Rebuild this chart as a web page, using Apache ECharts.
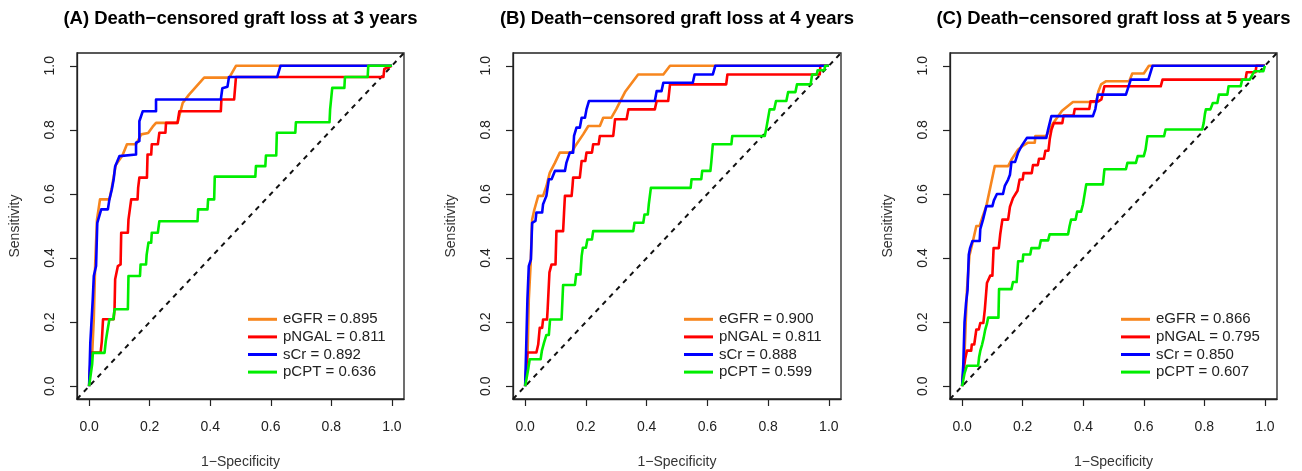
<!DOCTYPE html>
<html>
<head>
<meta charset="utf-8">
<script src="https://cdn.jsdelivr.net/npm/echarts@6/dist/echarts.min.js"></script>
<style>
html,body{margin:0;padding:0;background:#fff;}
#chart{width:1302px;height:471px;}
</style>
</head>
<body>
<div id="chart"></div>
<script>
// ---- text / labels ----
const panelTitles = [
  '(A) Death\u2212censored graft loss at 3 years',
  '(B) Death\u2212censored graft loss at 4 years',
  '(C) Death\u2212censored graft loss at 5 years'
];
const markers = ['eGFR', 'pNGAL', 'sCr', 'pCPT'];
const aucA = ['0.895', '0.811', '0.892', '0.636'];
const aucB = ['0.900', '0.811', '0.888', '0.599'];
const aucC = ['0.866', '0.795', '0.850', '0.607'];
const xTicks = [0, 0.2, 0.4, 0.6, 0.8, 1.0];
const yTicks = [0, 0.2, 0.4, 0.6, 0.8, 1.0];
const xTitle = '1\u2212Specificity';
const yTitle = 'Sensitivity';

// ---- ROC curves: [1-specificity, sensitivity] ----
const A_eGFR = [[0,0],[0.005,0.07],[0.01,0.10],[0.0155,0.209],[0.02,0.38],[0.026,0.52],[0.036,0.583],[0.067,0.583],[0.075,0.62],[0.088,0.69],[0.11,0.72],[0.125,0.755],[0.155,0.755],[0.16,0.76],[0.172,0.786],[0.195,0.79],[0.21,0.81],[0.221,0.822],[0.292,0.822],[0.309,0.884],[0.33,0.91],[0.38,0.963],[0.463,0.963],[0.485,1.0],[1,1]];
const A_pNGAL = [[0,0],[0.004,0.07],[0.006,0.105],[0.038,0.105],[0.042,0.14],[0.046,0.209],[0.081,0.209],[0.084,0.24],[0.086,0.334],[0.095,0.375],[0.104,0.38],[0.106,0.479],[0.128,0.479],[0.13,0.52],[0.139,0.583],[0.16,0.583],[0.162,0.62],[0.166,0.651],[0.191,0.651],[0.193,0.723],[0.205,0.723],[0.207,0.755],[0.227,0.755],[0.232,0.791],[0.252,0.791],[0.254,0.822],[0.292,0.822],[0.298,0.858],[0.435,0.858],[0.437,0.895],[0.479,0.895],[0.485,0.965],[0.972,0.965],[0.975,0.99],[1,1]];
const A_sCr = [[0,0],[0.004,0.136],[0.012,0.271],[0.0155,0.344],[0.023,0.375],[0.027,0.51],[0.031,0.515],[0.04,0.552],[0.062,0.552],[0.067,0.583],[0.075,0.614],[0.081,0.645],[0.086,0.686],[0.092,0.692],[0.1,0.718],[0.105,0.723],[0.155,0.723],[0.155,0.76],[0.166,0.765],[0.166,0.827],[0.177,0.858],[0.221,0.858],[0.221,0.895],[0.435,0.895],[0.44,0.93],[0.457,0.935],[0.462,0.965],[0.621,0.965],[0.632,1.0],[1,1]];
const A_pCPT = [[0,0],[0.01,0.068],[0.0125,0.104],[0.051,0.104],[0.055,0.14],[0.06,0.17],[0.067,0.209],[0.08,0.209],[0.084,0.24],[0.128,0.24],[0.13,0.344],[0.168,0.344],[0.17,0.38],[0.188,0.38],[0.19,0.41],[0.196,0.448],[0.205,0.448],[0.207,0.479],[0.227,0.479],[0.232,0.515],[0.358,0.515],[0.36,0.552],[0.391,0.552],[0.393,0.583],[0.413,0.583],[0.415,0.654],[0.549,0.654],[0.551,0.687],[0.582,0.687],[0.584,0.72],[0.618,0.72],[0.62,0.791],[0.681,0.791],[0.683,0.824],[0.794,0.824],[0.796,0.864],[0.801,0.864],[0.803,0.931],[0.843,0.931],[0.845,0.965],[0.92,0.965],[0.922,1.0],[1,1]];

const B_eGFR = [[0,0],[0.008,0.1],[0.012,0.27],[0.018,0.38],[0.023,0.52],[0.03,0.55],[0.043,0.594],[0.059,0.594],[0.07,0.624],[0.081,0.666],[0.098,0.697],[0.114,0.729],[0.153,0.729],[0.165,0.75],[0.191,0.786],[0.208,0.812],[0.246,0.812],[0.257,0.838],[0.284,0.838],[0.3,0.865],[0.33,0.92],[0.372,0.973],[0.455,0.973],[0.477,1.0],[1,1]];
const B_pNGAL = [[0,0],[0.004,0.06],[0.0075,0.105],[0.037,0.105],[0.043,0.13],[0.048,0.182],[0.056,0.182],[0.059,0.208],[0.072,0.208],[0.074,0.239],[0.08,0.355],[0.087,0.38],[0.1,0.38],[0.103,0.484],[0.125,0.484],[0.128,0.54],[0.131,0.594],[0.153,0.594],[0.156,0.625],[0.158,0.651],[0.18,0.651],[0.186,0.703],[0.198,0.703],[0.202,0.729],[0.22,0.729],[0.224,0.755],[0.242,0.755],[0.246,0.781],[0.29,0.781],[0.296,0.833],[0.334,0.833],[0.34,0.864],[0.427,0.864],[0.433,0.89],[0.471,0.89],[0.477,0.942],[0.662,0.942],[0.666,0.973],[0.97,0.973],[0.972,1.0],[1,1]];
const B_sCr = [[0,0],[0.003,0.105],[0.0075,0.271],[0.012,0.375],[0.019,0.396],[0.023,0.51],[0.034,0.516],[0.037,0.542],[0.056,0.542],[0.059,0.568],[0.07,0.594],[0.078,0.646],[0.087,0.646],[0.098,0.672],[0.131,0.672],[0.136,0.698],[0.147,0.729],[0.158,0.729],[0.161,0.781],[0.169,0.807],[0.18,0.807],[0.186,0.838],[0.197,0.838],[0.202,0.864],[0.21,0.89],[0.427,0.89],[0.433,0.921],[0.449,0.921],[0.455,0.947],[0.552,0.947],[0.558,0.973],[0.618,0.973],[0.626,1.0],[1,1]];
const B_pCPT = [[0,0],[0.01,0.053],[0.015,0.084],[0.051,0.084],[0.055,0.11],[0.062,0.135],[0.07,0.16],[0.078,0.16],[0.082,0.208],[0.12,0.208],[0.125,0.316],[0.164,0.316],[0.168,0.349],[0.182,0.349],[0.186,0.406],[0.19,0.432],[0.2,0.432],[0.205,0.458],[0.22,0.458],[0.224,0.484],[0.356,0.484],[0.36,0.51],[0.389,0.51],[0.393,0.536],[0.404,0.536],[0.407,0.567],[0.41,0.567],[0.414,0.619],[0.545,0.619],[0.548,0.646],[0.58,0.646],[0.583,0.672],[0.61,0.672],[0.613,0.7],[0.616,0.7],[0.618,0.755],[0.679,0.755],[0.682,0.781],[0.789,0.781],[0.795,0.81],[0.8,0.81],[0.805,0.864],[0.82,0.864],[0.826,0.89],[0.86,0.89],[0.866,0.918],[0.89,0.918],[0.895,0.942],[0.94,0.942],[0.945,0.973],[0.96,0.973],[0.963,0.986],[0.985,0.986],[0.988,1.0],[1,1]];

const C_eGFR = [[0,0],[0.008,0.1],[0.012,0.2],[0.016,0.3],[0.024,0.407],[0.035,0.45],[0.047,0.5],[0.058,0.5],[0.068,0.53],[0.08,0.562],[0.094,0.625],[0.108,0.687],[0.152,0.687],[0.165,0.71],[0.185,0.739],[0.2,0.75],[0.218,0.76],[0.24,0.76],[0.242,0.781],[0.278,0.781],[0.3,0.82],[0.33,0.86],[0.366,0.887],[0.443,0.887],[0.45,0.92],[0.459,0.942],[0.476,0.952],[0.552,0.952],[0.562,0.976],[0.6,0.976],[0.617,1.0],[1,1]];
const C_pNGAL = [[0,0],[0.005,0.05],[0.01,0.085],[0.016,0.111],[0.03,0.111],[0.032,0.13],[0.04,0.13],[0.047,0.177],[0.055,0.177],[0.06,0.197],[0.07,0.197],[0.075,0.239],[0.08,0.239],[0.082,0.322],[0.093,0.345],[0.1,0.345],[0.104,0.431],[0.121,0.431],[0.126,0.475],[0.133,0.52],[0.152,0.52],[0.158,0.56],[0.168,0.587],[0.183,0.61],[0.19,0.645],[0.2,0.645],[0.203,0.665],[0.23,0.665],[0.234,0.69],[0.25,0.69],[0.254,0.71],[0.27,0.71],[0.275,0.735],[0.285,0.735],[0.29,0.775],[0.295,0.8],[0.303,0.821],[0.331,0.821],[0.335,0.845],[0.368,0.845],[0.372,0.865],[0.42,0.865],[0.424,0.889],[0.45,0.889],[0.46,0.895],[0.47,0.936],[0.656,0.936],[0.662,0.957],[0.936,0.957],[0.94,0.98],[0.969,0.98],[0.972,1.0],[1,1]];
const C_sCr = [[0,0],[0.004,0.07],[0.008,0.2],[0.013,0.26],[0.018,0.3],[0.022,0.41],[0.026,0.43],[0.034,0.453],[0.058,0.453],[0.06,0.49],[0.069,0.52],[0.075,0.525],[0.08,0.562],[0.1,0.562],[0.105,0.58],[0.115,0.6],[0.135,0.6],[0.141,0.625],[0.152,0.645],[0.158,0.66],[0.163,0.7],[0.175,0.7],[0.185,0.729],[0.196,0.749],[0.214,0.775],[0.278,0.775],[0.284,0.801],[0.295,0.843],[0.432,0.843],[0.44,0.865],[0.448,0.91],[0.541,0.91],[0.557,0.957],[0.615,0.957],[0.629,1.0],[1,1]];
const C_pCPT = [[0,0],[0.008,0.04],[0.016,0.064],[0.053,0.064],[0.056,0.09],[0.06,0.11],[0.066,0.13],[0.071,0.15],[0.076,0.175],[0.082,0.195],[0.086,0.214],[0.12,0.214],[0.122,0.303],[0.163,0.303],[0.168,0.325],[0.18,0.325],[0.182,0.35],[0.185,0.39],[0.2,0.39],[0.202,0.411],[0.225,0.411],[0.229,0.431],[0.255,0.431],[0.26,0.455],[0.284,0.455],[0.289,0.474],[0.35,0.474],[0.355,0.5],[0.36,0.52],[0.375,0.52],[0.38,0.545],[0.393,0.545],[0.399,0.567],[0.405,0.567],[0.41,0.63],[0.465,0.63],[0.47,0.677],[0.541,0.677],[0.546,0.697],[0.574,0.697],[0.58,0.718],[0.6,0.718],[0.606,0.739],[0.612,0.78],[0.667,0.78],[0.672,0.801],[0.793,0.801],[0.798,0.822],[0.802,0.85],[0.805,0.864],[0.82,0.864],[0.828,0.884],[0.843,0.884],[0.848,0.91],[0.876,0.91],[0.88,0.936],[0.92,0.936],[0.925,0.957],[0.95,0.957],[0.965,0.983],[0.995,0.983],[1,1]];

const reference = [[-0.04,-0.04],[1.04,1.04]];

// ---- layout / style ----
const FONT = '"Liberation Sans", Arial, Helvetica, sans-serif';
const colors = ['#F7861E', '#FF0000', '#0000FF', '#00EE00'];
const grids = [
  { left: 77, top: 53, width: 327, height: 346 },
  { left: 513, top: 53, width: 328, height: 346 },
  { left: 950, top: 53, width: 327, height: 346 }
];
const panels = [
  { title: panelTitles[0], auc: aucA, curves: [A_eGFR, A_pNGAL, A_sCr, A_pCPT] },
  { title: panelTitles[1], auc: aucB, curves: [B_eGFR, B_pNGAL, B_sCr, B_pCPT] },
  { title: panelTitles[2], auc: aucC, curves: [C_eGFR, C_pNGAL, C_sCr, C_pCPT] }
];

function makeAxis(i, ticks) {
  return {
    type: 'value', min: -0.04, max: 1.04, gridIndex: i,
    splitLine: { show: false },
    axisLine: { show: true, onZero: false, lineStyle: { color: '#222', width: 1.3 } },
    axisTick: { show: true, inside: false, length: 7, customValues: ticks, lineStyle: { color: '#222', width: 1.2 } },
    axisLabel: { customValues: ticks, formatter: v => v.toFixed(1), fontFamily: FONT, fontSize: 14, color: '#222', margin: 21 }
  };
}

const option = {
  animation: false,
  backgroundColor: '#fff',
  grid: [], xAxis: [], yAxis: [], series: [], legend: [], graphic: []
};

panels.forEach((p, i) => {
  const g = grids[i];
  option.grid.push(Object.assign({ show: true, borderColor: '#222', borderWidth: 1.3, backgroundColor: 'transparent' }, g));
  option.xAxis.push(makeAxis(i, xTicks));
  const ya = makeAxis(i, yTicks);
  ya.axisLabel.rotate = 90;
  ya.axisLabel.margin = 20;
  option.yAxis.push(ya);

  // diagonal reference line
  option.series.push({
    type: 'line', xAxisIndex: i, yAxisIndex: i, data: reference, silent: true,
    showSymbol: false, clip: true, z: 1,
    lineStyle: { color: '#111', width: 2, type: [5, 5] }
  });
  const names = [];
  p.curves.forEach((c, k) => {
    const name = markers[k] + ' = ' + p.auc[k];
    names.push(name);
    option.series.push({
      type: 'line', name: name, xAxisIndex: i, yAxisIndex: i, data: c,
      showSymbol: false, clip: true, z: 2 + k,
      color: colors[k],
      lineStyle: { color: colors[k], width: 2.6, join: 'round' }
    });
  });
  option.legend.push({
    data: names, orient: 'vertical', left: g.left + 166, top: 306,
    icon: 'rect', itemWidth: 29, itemHeight: 3, itemGap: 1,
    selectedMode: false,
    textStyle: { fontFamily: FONT, fontSize: 15, color: '#222', lineHeight: 16.6, padding: [0, 0, 0, 1] }
  });
  const cx = g.left + g.width / 2;
  option.graphic.push({
    type: 'text', x: cx, y: 19,
    style: { text: p.title, align: 'center', verticalAlign: 'middle', font: 'bold 18.5px ' + FONT, fill: '#000' }
  });
  option.graphic.push({
    type: 'text', x: cx, y: 462,
    style: { text: xTitle, align: 'center', verticalAlign: 'middle', font: '14px ' + FONT, fill: '#333' }
  });
  option.graphic.push({
    type: 'text', x: g.left - 62, y: g.top + g.height / 2, rotation: Math.PI / 2,
    style: { text: yTitle, align: 'center', verticalAlign: 'middle', font: '14px ' + FONT, fill: '#333' }
  });
});

const chart = echarts.init(document.getElementById('chart'), null, { renderer: 'canvas' });
chart.setOption(option);
</script>
</body>
</html>
